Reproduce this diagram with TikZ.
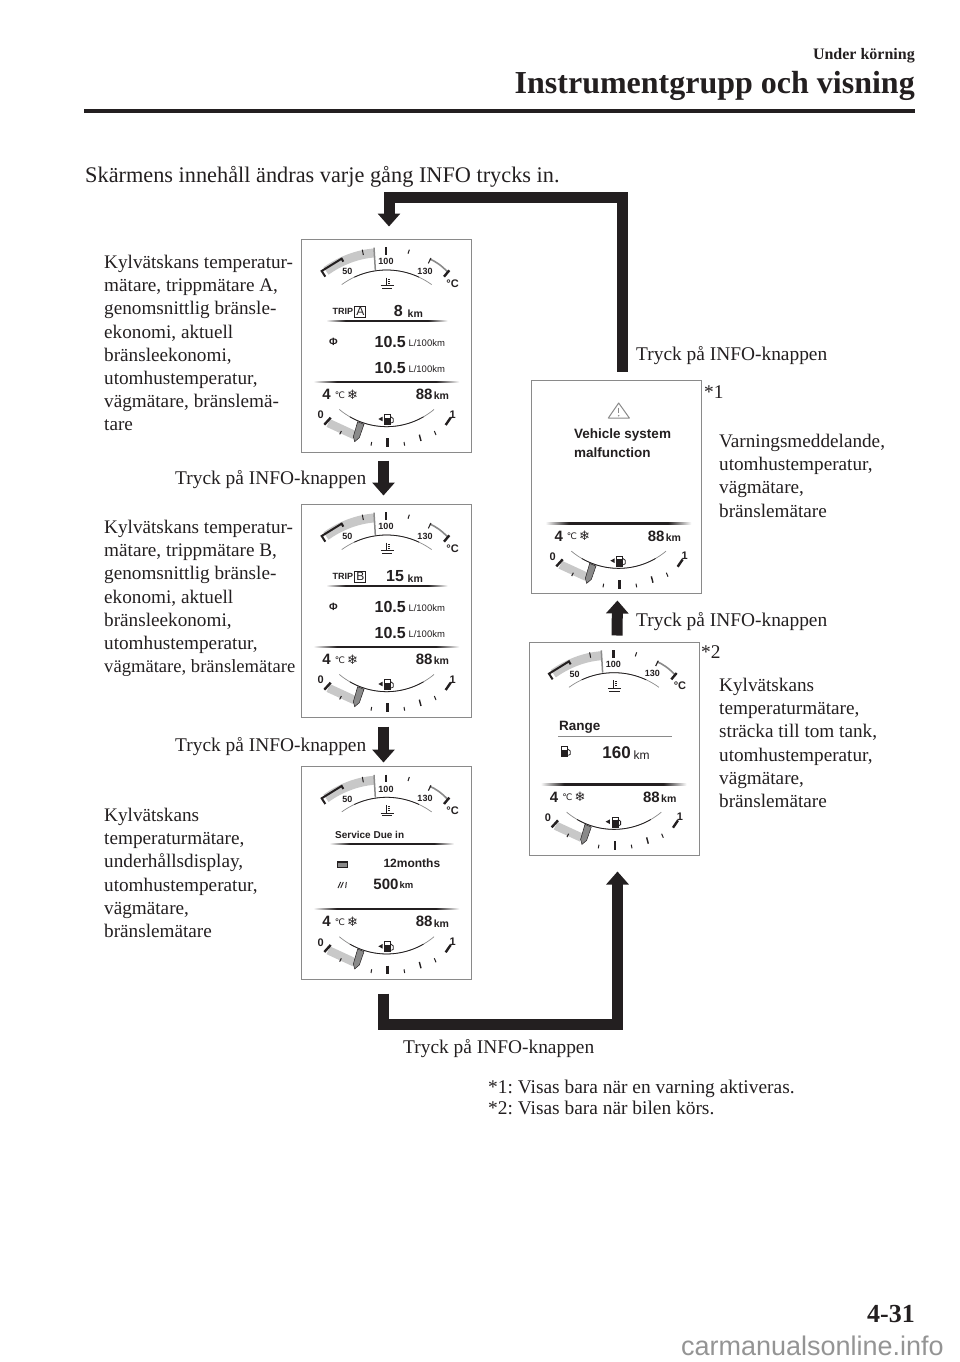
\documentclass[tikz,border=0pt]{standalone}
\usepackage{fontspec}
\setmainfont{Liberation Serif}
\newfontfamily\gsans{Liberation Sans}
\newfontfamily\gdeja{DejaVu Sans}
\usetikzlibrary{arrows.meta,calc}
\definecolor{ink}{HTML}{231F20}
\definecolor{band}{HTML}{C8C8C8}
\definecolor{greyln}{HTML}{8A8A8A}
\AtBeginDocument{\frenchspacing}
\pgfdeclarehorizontalshading{taperline}{100bp}{color(0bp)=(white); color(25bp)=(white); color(33bp)=(ink); color(67bp)=(ink); color(75bp)=(white); color(100bp)=(white)}
\tikzset{
  body/.style={inner sep=0pt,text=ink,align=left,font=\fontsize{19.2}{23.2}\selectfont},
  press/.style={inner sep=0pt,text=ink,anchor=base west,font=\fontsize{19.4}{22}\selectfont},
  panel/.style={draw=greyln,line width=1pt,fill=white,minimum width=170pt,minimum height=213pt,inner sep=0pt},
  fat/.style={draw=ink,line width=11pt,line join=miter,-{Triangle[width=22pt,length=13pt]}},
  gt/.style={inner sep=0pt,text=ink,font=\gsans\bfseries\fontsize{9}{9}\selectfont},
  gbig/.style={inner sep=0pt,text=ink,font=\gsans\bfseries\fontsize{16}{16}\selectfont},
  gmid/.style={inner sep=0pt,text=ink,font=\gsans\bfseries\fontsize{13.5}{13.5}\selectfont},
  gval/.style={inner sep=0pt,text=ink,font=\gsans\bfseries\fontsize{15}{15}\selectfont},
  gsmall/.style={inner sep=0pt,text=ink,font=\gsans\fontsize{9.5}{9.5}\selectfont},
  zoomed/.style={x=0.33333pt,y=-0.33333pt}
}
% tapered rule: x1, x2, y, thickness
\newcommand{\taper}[4]{\shade[shading=taperline] (#1,#3) rectangle (#2,#3+#4);}
% fuel pump icon
\newcommand{\fuelicon}[2]{%
  \draw[ink,line width=.6pt,fill=white] (#1-10,#2-15) rectangle (#1+8,#2+15);
  \fill[ink] (#1-10,#2-5) rectangle (#1+8,#2+15);
  \draw[ink,line width=.8pt] (#1+8,#2-8) -- (#1+16,#2-2) -- (#1+16,#2+8) -- (#1+10,#2+11);
}
\newcommand{\uppergauge}[3]{%
\begin{scope}[shift={(#2,#3)},zoomed]
  \draw[band,line width=9pt] (78,108) .. controls (120,78) and (170,58) .. (222,54);
  \draw[ink,line width=2pt] (76,125) -- (65,108) -- (125,71) -- (130,80);
  \draw[greyln,line width=1.5pt] (222,38) -- (226,105);
  \draw[ink,line width=2.4pt] (258,37) -- (258,60);
  \draw[ink,line width=1pt] (187,44) -- (190,60);
  \draw[ink,line width=1pt] (328,44) -- (324,56);
  \draw[greyln,line width=1.6pt] (389,72) .. controls (405,78) and (425,92) .. (442,110);
  \draw[ink,line width=1.1pt] (393,69) -- (385,85);
  \draw[ink,line width=2.4pt] (448,106) -- (432,125);
  \draw[greyln,line width=.7pt] plot[domain=-36:36,samples=40] ({260+229.5*sin(\x)},{334.5-229.5*cos(\x)});
  \draw[ink,line width=.8pt] plot[domain=-25:25,samples=30] ({260+229.5*sin(\x)},{334.5-229.5*cos(\x)});
  \node[gt] (#1-a) at (142,110) {50};
  \node[gt] (#1-b) at (258,80) {100};
  \node[gt] (#1-c) at (375,108) {130};
  \node[gt,font=\gsans\bfseries\fontsize{11}{11}\selectfont] (#1-d) at (458,145) {°C};
  \draw[ink,line width=1pt] (260,128) -- (260,152);
  \draw[ink,line width=.5pt] (264,132) -- (270,132) (264,138) -- (270,138) (264,144) -- (270,144);
  \draw[ink,line width=.6pt] (242,152) -- (281,152) (246,160) -- (277,160);
\end{scope}}
\newcommand{\lowergauge}[3]{%
\begin{scope}[shift={(#2,#3)},zoomed]
  \taper{40}{478}{438}{4}
  \node[gval] (#1-e) at (80,478) {4};
  \node[gsmall,font=\gdeja\fontsize{9}{9}\selectfont] (#1-f) at (120,480) {℃};
  \node[gsmall,font=\gdeja\fontsize{13}{13}\selectfont] (#1-g) at (158,478) {❄};
  \node[gval,anchor=east] (#1-h) at (398,478) {88};
  \node[gt,font=\gsans\bfseries\fontsize{10.5}{10.5}\selectfont,anchor=west] (#1-i) at (401,483) {km};
  \draw[greyln,line width=.7pt] plot[domain=-40:40,samples=40] ({260+221*sin(\x)},{354+221*cos(\x)});
  \draw[ink,line width=.8pt] plot[domain=-30:30,samples=30] ({260+221*sin(\x)},{354+221*cos(\x)});
  \node[gt,font=\gsans\bfseries\fontsize{11}{11}\selectfont] (#1-j) at (62,540) {0};
  \node[gt,font=\gsans\bfseries\fontsize{11}{11}\selectfont] (#1-k) at (458,538) {1};
  \draw[band,line width=8.5pt] (85,564) -- (163,600);
  \draw[ink,line width=2.4pt] (73,569) -- (92,548);
  \draw[ink,line width=1pt] (124,588) -- (119,598);
  \fill[greyln,draw=ink,line width=.5pt] (173,560) -- (192,568) -- (178,608) -- (164,620) -- (160,605) -- cycle;
  \draw[ink,line width=1pt] (215,621) -- (213,632);
  \draw[ink,line width=2.4pt] (263,610) -- (263,636);
  \draw[ink,line width=1pt] (312,621) -- (314,632);
  \draw[ink,line width=1.4pt] (358,599) -- (363,618);
  \draw[ink,line width=1pt] (403,588) -- (408,600);
  \draw[ink,line width=2.4pt] (452,548) -- (437,570);
  \fuelicon{264}{553}
  \fill[ink] (235,552) -- (248,545) -- (248,559) -- cycle;
\end{scope}}
\newcommand{\consumption}[3]{%
\begin{scope}[shift={(#2,#3)},zoomed]
  \node[gt,font=\gsans\bfseries\fontsize{10.5}{10.5}\selectfont] (#1-phi) at (100,322) {Φ};
  \node[gbig,anchor=east] (#1-x) at (318,320) {10.5};
  \node[gsmall,anchor=west] (#1-y) at (325,324) {L/100km};
  \node[gbig,anchor=east] (#1-z) at (318,398) {10.5};
  \node[gsmall,anchor=west] (#1-w) at (325,403) {L/100km};
  \taper{78}{443}{255}{4}
\end{scope}}
\begin{document}
\begin{tikzpicture}[x=1pt,y=-1pt]
\useasboundingbox (0,0) rectangle (960,1362);
% header
\node[inner sep=0pt,text=ink,anchor=base east,font=\bfseries\fontsize{16}{16}\selectfont] (hsub) at (915,60) {Under körning};
\node[inner sep=0pt,text=ink,anchor=base east,font=\bfseries\fontsize{32}{32}\selectfont] (htitle) at (915,94) {Instrumentgrupp och visning};
\fill[ink] (84,109) rectangle (915,113);
\node[inner sep=0pt,text=ink,anchor=base west,font=\fontsize{22.3}{22.3}\selectfont] (intro) at (85,182) {Skärmens innehåll ändras varje gång INFO trycks in.};
% panels
\node[panel] (A) at (386,345.5) {};
\node[panel] (B) at (386,610.5) {};
\node[panel] (C) at (386,872.5) {};
\node[panel] (W) at (616.5,486.5) {};
\node[panel] (R) at (614,748.5) {};
% connectors
\coordinate (topbend) at (389,197.5);
\coordinate (botbend) at (383.5,1024.5);
\coordinate (botend) at (617.5,1024.5);
\draw[fat,shorten <=8pt,shorten >=12pt] ([xshift=6pt]W.north) -- ([xshift=6pt]W.north |- topbend) -- (topbend) -- (topbend |- A.north);
\draw[fat,shorten <=8pt,shorten >=8pt] ([xshift=-2.5pt]A.south) -- ([xshift=-2.5pt]B.north);
\draw[fat,shorten <=9pt,shorten >=3pt] ([xshift=-2.5pt]B.south) -- ([xshift=-2.5pt]C.north);
\draw[fat,shorten <=14pt,shorten >=16pt] ([xshift=-2.5pt]C.south) -- (botbend) -- (botend) -- ([xshift=3.5pt]R.south);
\draw[fat,shorten <=6pt,shorten >=7pt] ([xshift=3pt]R.north) -- ([xshift=1pt]W.south);
% gauges
\uppergauge{ua}{300}{235}
\lowergauge{la}{300}{235}
\consumption{ca}{300}{235}
\begin{scope}[shift={(300,235)},zoomed]
  \node[gt,anchor=east] (ta) at (160,230) {TRIP};
  \node[gt,draw=ink,line width=.8pt,minimum width=11pt,minimum height=11pt,font=\gsans\fontsize{12}{12}\selectfont] (tb) at (181,230) {A};
  \node[gval,font=\gsans\bfseries\fontsize{16}{16}\selectfont] (tc) at (295,228) {8};
  \node[gt,font=\gsans\bfseries\fontsize{10.5}{10.5}\selectfont] (td) at (346,236) {km};
\end{scope}
\uppergauge{ub}{300}{500}
\lowergauge{lb}{300}{500}
\consumption{cb}{300}{500}
\begin{scope}[shift={(300,500)},zoomed]
  \node[gt,anchor=east] (tbe) at (160,230) {TRIP};
  \node[gt,draw=ink,line width=.8pt,minimum width=11pt,minimum height=11pt,font=\gsans\fontsize{12}{12}\selectfont] (tbf) at (181,230) {B};
  \node[gval,font=\gsans\bfseries\fontsize{16}{16}\selectfont] (tbg) at (285,228) {15};
  \node[gt,font=\gsans\bfseries\fontsize{10.5}{10.5}\selectfont] (tbh) at (346,236) {km};
\end{scope}
\uppergauge{uc}{300}{762.3}
\lowergauge{lc}{300}{762.3}
\begin{scope}[shift={(300,760)},zoomed]
  \node[gt,anchor=west,font=\gsans\bfseries\fontsize{10}{10}\selectfont] (sa) at (105,225) {Service Due in};
  \taper{88}{462}{249}{4}
  \draw[ink,line width=.5pt,fill=greyln] (112,304) rectangle (143,322);
  \fill[ink] (112,304) rectangle (143,309);
  \node[gt,anchor=west,font=\gsans\bfseries\fontsize{12}{12}\selectfont] (sb) at (250,310) {12months};
  \draw[ink,line width=.9pt] (114,384) -- (122,366) (122,384) -- (130,366) (137,384) -- (139,366);
  \node[gval,anchor=east] (sc) at (296,372) {500};
  \node[gt,anchor=west,font=\gsans\bfseries\fontsize{9.5}{9.5}\selectfont] (sd) at (298,376) {km};
\end{scope}
\lowergauge{lw}{532}{376.7}
\begin{scope}[shift={(528,375)},zoomed]
  \draw[greyln,line width=1pt,line join=round,fill=white] (272,84) -- (304,129) -- (241,129) -- cycle;
  \draw[greyln,line width=1.2pt] (272,98) -- (272,115);
  \fill[greyln] (272,122) circle (2.5);
  \node[gmid,anchor=west] (wa) at (138,180) {Vehicle system};
  \node[gmid,anchor=west] (wb) at (138,232) {malfunction};
\end{scope}
\uppergauge{ur}{527.3}{637.7}
\lowergauge{lr}{527.3}{637.7}
\begin{scope}[shift={(525,640)},zoomed]
  \node[gmid,anchor=west] (ra) at (102,262) {Range};
  \draw[greyln,line width=.6pt] (100,290) -- (440,290);
  \fuelicon{120}{335}
  \node[gbig,font=\gsans\bfseries\fontsize{17}{17}\selectfont,anchor=east] (rb) at (318,338) {160};
  \node[gsmall,font=\gsans\fontsize{12}{12}\selectfont,anchor=west] (rc) at (325,345) {km};
\end{scope}
% labels
\node[body,anchor=north west] (la1) at (104,255) {Kylvätskans temperatur-\\mätare, trippmätare A,\\genomsnittlig bränsle-\\ekonomi, aktuell\\bränsleekonomi,\\utomhustemperatur,\\vägmätare, bränslemä-\\tare};
\node[body,anchor=north west] (la2) at (104,520) {Kylvätskans temperatur-\\mätare, trippmätare B,\\genomsnittlig bränsle-\\ekonomi, aktuell\\bränsleekonomi,\\utomhustemperatur,\\{\fontsize{18.6}{23.2}\selectfont vägmätare, bränslemätare}};
\node[body,anchor=north west] (la3) at (104,808) {Kylvätskans\\temperaturmätare,\\underhållsdisplay,\\utomhustemperatur,\\vägmätare,\\bränslemätare};
\node[body,anchor=north west] (la4) at (719,434) {Varningsmeddelande,\\utomhustemperatur,\\vägmätare,\\bränslemätare};
\node[body,anchor=north west] (la5) at (719,678) {Kylvätskans\\temperaturmätare,\\sträcka till tom tank,\\utomhustemperatur,\\vägmätare,\\bränslemätare};
\node[press] (p1) at (175,484) {Tryck på INFO-knappen};
\node[press] (p2) at (175,751) {Tryck på INFO-knappen};
\node[press] (p3) at (403,1053) {Tryck på INFO-knappen};
\node[press] (p4) at (636,360) {Tryck på INFO-knappen};
\node[press] (p5) at (636,626) {Tryck på INFO-knappen};
\node[press] (s1) at (704,398) {*1};
\node[press] (s2) at (701,658) {*2};
\node[press] (f1) at (488,1093) {*1: Visas bara när en varning aktiveras.};
\node[press] (f2) at (488,1114) {*2: Visas bara när bilen körs.};
\node[inner sep=0pt,text=ink,anchor=base east,font=\bfseries\fontsize{26}{26}\selectfont] (pageno) at (915,1322) {4-31};
\node[inner sep=0pt,text=black!42,anchor=base east,font=\gsans\fontsize{27}{27}\selectfont] (wm) at (944,1355) {carmanualsonline.info};
\end{tikzpicture}
\end{document}
